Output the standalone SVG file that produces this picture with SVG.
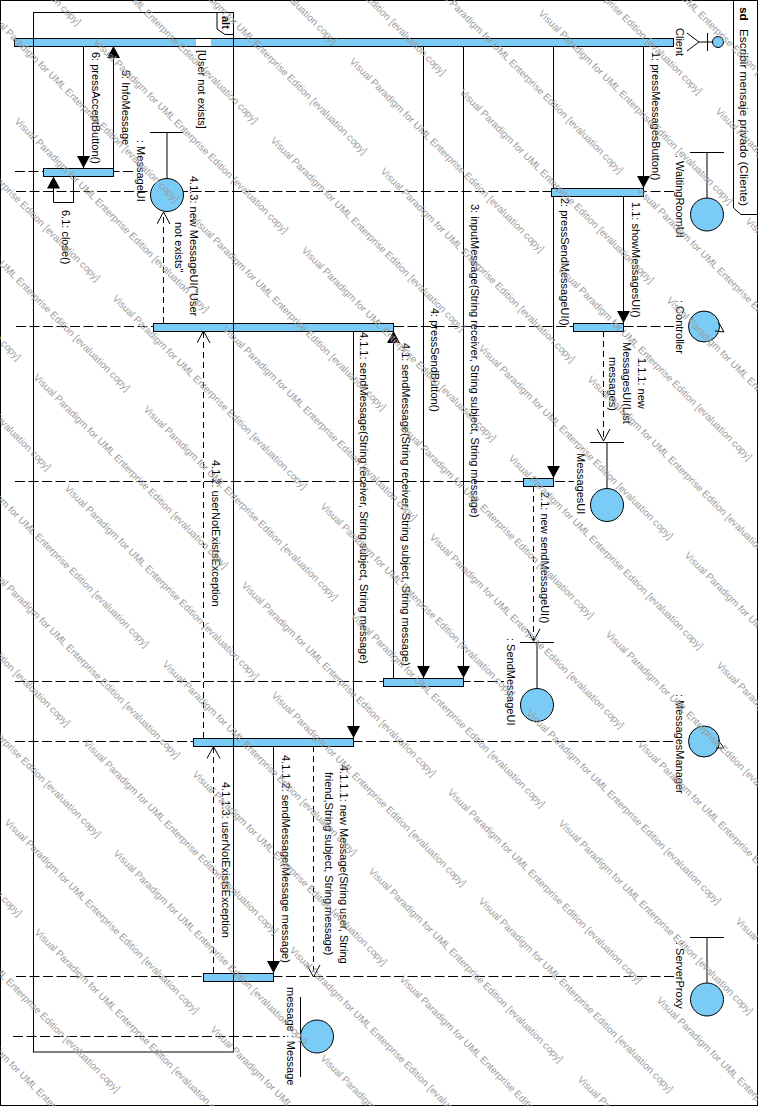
<svg xmlns="http://www.w3.org/2000/svg" width="758" height="1106" viewBox="0 0 758 1106">
<style>
text{font-family:"Liberation Sans",Arial,sans-serif;font-size:11px;fill:#000}
.b{font-weight:bold}
.t{font-size:11.8px}
.wm{font-size:10px;fill:#9c9c9c}
.l{stroke:#000;stroke-width:1;fill:none}
.life{stroke:#000;stroke-width:1;fill:none;stroke-dasharray:10 3.5}
.msg{stroke:#000;stroke-width:1;fill:none;marker-end:url(#solid)}
.ret{stroke:#000;stroke-width:1;fill:none;stroke-dasharray:6 4;marker-end:url(#open)}
.bar,.c{fill:#7ACBF5;stroke:#000;stroke-width:1}
</style>
<defs>
<marker id="solid" markerUnits="userSpaceOnUse" markerWidth="14" markerHeight="15" refX="12" refY="7" orient="auto"><path d="M0,0.5 L12,7 L0,13.5 z" fill="#000"/></marker>
<marker id="open" markerUnits="userSpaceOnUse" markerWidth="14" markerHeight="15" refX="12" refY="7" orient="auto"><path d="M0,0.5 L12,7 L0,13.5" fill="none" stroke="#000"/></marker>
</defs>
<rect x="0.5" y="0.5" width="757" height="1105" fill="#fff" stroke="#000"/>
<g id="frame-sd">
<path class="l" d="M733.5,0 V208 L741,214.5 H758"/>
<text class="b t" transform="translate(740,7) rotate(90)">sd</text>
<text class="t" transform="translate(740,29) rotate(90)">Escribir mensaje privado (Cliente)</text>
</g>
<g id="connectors">
<path class="life" d="M16,191.5 H675"/>
<path class="life" d="M15,171.5 H134"/>
<path class="life" d="M16,326.5 H675"/>
<path class="life" d="M15,481.5 H574"/>
<path class="life" d="M15,681.5 H504"/>
<path class="life" d="M15,741.5 H675"/>
<path class="life" d="M16,976.5 H675"/>
<path class="life" d="M13,1036.5 H285"/>
<path class="msg" d="M643.5,46 V188"/>
<text transform="translate(652,52) rotate(90)">1: pressMessagesButton()</text>
<path class="msg" d="M623.5,196 V323"/>
<text transform="translate(632,202) rotate(90)">1.1: showMessagesUI()</text>
<path class="ret" d="M603.5,331 V441"/>
<text transform="translate(638,358) rotate(90)">1.1.1: new</text>
<text transform="translate(623,342) rotate(90)">MessagesUI(List</text>
<text transform="translate(609,357) rotate(90)">messages)</text>
<path class="msg" d="M553.5,46 V478"/>
<text transform="translate(561,198) rotate(90)">2: pressSendMessageUI()</text>
<path class="ret" d="M533.5,486 V641"/>
<text transform="translate(541,492) rotate(90)">2.1: new sendMessageUI()</text>
<path class="msg" d="M463.5,46 V678"/>
<text transform="translate(471,204) rotate(90)">3: inputMessage(String receiver, String subject, String message)</text>
<path class="msg" d="M423.5,46 V678"/>
<text transform="translate(431,308) rotate(90)">4: pressSendButton()</text>
<path class="msg" d="M393.5,678 V331"/>
<text transform="translate(402,343) rotate(90)">4.1: sendMessage(String receiver, String subject, String message)</text>
<path class="msg" d="M353.5,331 V738"/>
<text transform="translate(360,332) rotate(90)">4.1.1: sendMessage(String receiver, String subject, String message)</text>
<path class="ret" d="M313.5,746 V977"/>
<text transform="translate(340,765) rotate(90)">4.1.1.1: new Message(String user, String</text>
<text transform="translate(325,772) rotate(90)">friend,String subject, String message)</text>
<path class="msg" d="M273.5,746 V973"/>
<text transform="translate(282,755) rotate(90)">4.1.1.2: sendMessage(Message message)</text>
<path class="ret" d="M213.5,973 V746.5"/>
<text transform="translate(222,782) rotate(90)">4.1.1.3: userNotExistsException</text>
<path class="ret" d="M203.5,738 V331"/>
<text transform="translate(212,460) rotate(90)">4.1.2: userNotExistsException</text>
<path class="ret" d="M163.5,323 V212"/>
<text transform="translate(190,176) rotate(90)">4.1.3: new MessageUI("User</text>
<text transform="translate(175,222) rotate(90)">not exists"</text>
<path class="msg" d="M113.5,168 V46"/>
<text transform="translate(122,70) rotate(90)">5: InfoMessage</text>
<path class="msg" d="M83.5,46 V168"/>
<text transform="translate(92,52) rotate(90)">6: pressAcceptButton()</text>
<path class="msg" d="M73.5,176 V202.5 H53.5 V176.5"/>
<text transform="translate(62,210) rotate(90)">6.1: close()</text>
</g>
<g id="client">
<rect class="bar" x="14.5" y="38.5" width="659" height="8"/>
<rect x="196" y="39" width="15" height="7" fill="#fff"/>
<circle class="c" cx="718" cy="42" r="5.5"/>
<path class="l" d="M687,33 L699,42 L687,51 M699,42 H713 M707.5,33 V51"/>
<text transform="translate(676,28) rotate(90)">Client</text>
</g>
<g id="waitingRoomUI">
<rect class="bar" x="551.5" y="188.5" width="92" height="8"/>
<path class="l" d="M690,152.5 H724 M707,152.5 V198"/>
<circle class="c" cx="707" cy="214.5" r="16.5"/>
<text transform="translate(676,155) rotate(90)">: WaitingRoomUI</text>
</g>
<g id="controller">
<rect class="bar" x="573.5" y="323.5" width="50" height="8"/>
<rect class="bar" x="153.5" y="323.5" width="240" height="8"/>
<circle class="c" cx="704" cy="326.5" r="15.5"/>
<path class="l" d="M719,323 L724,332 L715,331"/>
<text transform="translate(676,300) rotate(90)">: Controller</text>
</g>
<g id="messagesUI-list">
<rect class="bar" x="523.5" y="478.5" width="30" height="8"/>
<path class="l" d="M590,442.5 H624 M607,442.5 V488"/>
<circle class="c" cx="607" cy="505" r="16.5"/>
<text transform="translate(577,447) rotate(90)">: MessagesUI</text>
</g>
<g id="sendMessageUI">
<rect class="bar" x="383.5" y="678.5" width="80" height="8"/>
<path class="l" d="M520,642.5 H554 M537,642.5 V688"/>
<circle class="c" cx="537" cy="705" r="16.5"/>
<text transform="translate(507,638) rotate(90)">: SendMessageUI</text>
</g>
<g id="messagesManager">
<rect class="bar" x="193.5" y="738.5" width="160" height="8"/>
<circle class="c" cx="704" cy="741.5" r="15.5"/>
<path class="l" d="M718,740 L724,748 L716,748"/>
<text transform="translate(676,694) rotate(90)">: MessagesManager</text>
</g>
<g id="serverProxy">
<rect class="bar" x="203.5" y="973.5" width="70" height="8"/>
<path class="l" d="M690,937.5 H724 M707,937.5 V983"/>
<circle class="c" cx="707" cy="999.5" r="16.5"/>
<text transform="translate(676,942) rotate(90)">: ServerProxy</text>
</g>
<g id="message">
<path class="l" d="M300.5,997 V1077"/>
<circle class="c" cx="317" cy="1036.5" r="16.5"/>
<text transform="translate(287,987) rotate(90)">message : Message</text>
</g>
<g id="messageUI">
<rect class="bar" x="43.5" y="168.5" width="70" height="8"/>
<path class="l" d="M150,132.5 H183 M167,132.5 V178"/>
<circle class="c" cx="167" cy="195" r="16.5"/>
<text transform="translate(137,140) rotate(90)">: MessageUI</text>
</g>
<g id="alt-frame">
<rect class="l" x="33.5" y="12.5" width="200" height="1039.5"/>
<path class="l" d="M217,12.5 V29 L225,34.5 H233.5"/>
<text class="b" transform="translate(222,16) rotate(90)">alt</text>
<text transform="translate(198,50) rotate(90)">[User not exists]</text>
</g>
<g id="watermark">
<text class="wm" transform="translate(-114,-165) rotate(45)">Visual Paradigm for UML Enterprise Edition [evaluation copy]</text>
<text class="wm" transform="translate(142,-146) rotate(45)">Visual Paradigm for UML Enterprise Edition [evaluation copy]</text>
<text class="wm" transform="translate(63,-67) rotate(45)">Visual Paradigm for UML Enterprise Edition [evaluation copy]</text>
<text class="wm" transform="translate(-16,12) rotate(45)">Visual Paradigm for UML Enterprise Edition [evaluation copy]</text>
<text class="wm" transform="translate(-95,91) rotate(45)">Visual Paradigm for UML Enterprise Edition [evaluation copy]</text>
<text class="wm" transform="translate(-174,170) rotate(45)">Visual Paradigm for UML Enterprise Edition [evaluation copy]</text>
<text class="wm" transform="translate(251,-115) rotate(45)">Visual Paradigm for UML Enterprise Edition [evaluation copy]</text>
<text class="wm" transform="translate(172,-36) rotate(45)">Visual Paradigm for UML Enterprise Edition [evaluation copy]</text>
<text class="wm" transform="translate(93,43) rotate(45)">Visual Paradigm for UML Enterprise Edition [evaluation copy]</text>
<text class="wm" transform="translate(14,122) rotate(45)">Visual Paradigm for UML Enterprise Edition [evaluation copy]</text>
<text class="wm" transform="translate(-65,201) rotate(45)">Visual Paradigm for UML Enterprise Edition [evaluation copy]</text>
<text class="wm" transform="translate(-144,280) rotate(45)">Visual Paradigm for UML Enterprise Edition [evaluation copy]</text>
<text class="wm" transform="translate(507,-96) rotate(45)">Visual Paradigm for UML Enterprise Edition [evaluation copy]</text>
<text class="wm" transform="translate(428,-17) rotate(45)">Visual Paradigm for UML Enterprise Edition [evaluation copy]</text>
<text class="wm" transform="translate(349,62) rotate(45)">Visual Paradigm for UML Enterprise Edition [evaluation copy]</text>
<text class="wm" transform="translate(270,141) rotate(45)">Visual Paradigm for UML Enterprise Edition [evaluation copy]</text>
<text class="wm" transform="translate(191,220) rotate(45)">Visual Paradigm for UML Enterprise Edition [evaluation copy]</text>
<text class="wm" transform="translate(112,299) rotate(45)">Visual Paradigm for UML Enterprise Edition [evaluation copy]</text>
<text class="wm" transform="translate(33,378) rotate(45)">Visual Paradigm for UML Enterprise Edition [evaluation copy]</text>
<text class="wm" transform="translate(-46,457) rotate(45)">Visual Paradigm for UML Enterprise Edition [evaluation copy]</text>
<text class="wm" transform="translate(-125,536) rotate(45)">Visual Paradigm for UML Enterprise Edition [evaluation copy]</text>
<text class="wm" transform="translate(617,-65) rotate(45)">Visual Paradigm for UML Enterprise Edition [evaluation copy]</text>
<text class="wm" transform="translate(538,14) rotate(45)">Visual Paradigm for UML Enterprise Edition [evaluation copy]</text>
<text class="wm" transform="translate(459,93) rotate(45)">Visual Paradigm for UML Enterprise Edition [evaluation copy]</text>
<text class="wm" transform="translate(380,172) rotate(45)">Visual Paradigm for UML Enterprise Edition [evaluation copy]</text>
<text class="wm" transform="translate(301,251) rotate(45)">Visual Paradigm for UML Enterprise Edition [evaluation copy]</text>
<text class="wm" transform="translate(222,330) rotate(45)">Visual Paradigm for UML Enterprise Edition [evaluation copy]</text>
<text class="wm" transform="translate(143,410) rotate(45)">Visual Paradigm for UML Enterprise Edition [evaluation copy]</text>
<text class="wm" transform="translate(64,489) rotate(45)">Visual Paradigm for UML Enterprise Edition [evaluation copy]</text>
<text class="wm" transform="translate(-15,568) rotate(45)">Visual Paradigm for UML Enterprise Edition [evaluation copy]</text>
<text class="wm" transform="translate(-94,647) rotate(45)">Visual Paradigm for UML Enterprise Edition [evaluation copy]</text>
<text class="wm" transform="translate(-173,726) rotate(45)">Visual Paradigm for UML Enterprise Edition [evaluation copy]</text>
<text class="wm" transform="translate(715,112) rotate(45)">Visual Paradigm for UML Enterprise Edition [evaluation copy]</text>
<text class="wm" transform="translate(636,191) rotate(45)">Visual Paradigm for UML Enterprise Edition [evaluation copy]</text>
<text class="wm" transform="translate(557,270) rotate(45)">Visual Paradigm for UML Enterprise Edition [evaluation copy]</text>
<text class="wm" transform="translate(478,349) rotate(45)">Visual Paradigm for UML Enterprise Edition [evaluation copy]</text>
<text class="wm" transform="translate(399,428) rotate(45)">Visual Paradigm for UML Enterprise Edition [evaluation copy]</text>
<text class="wm" transform="translate(320,507) rotate(45)">Visual Paradigm for UML Enterprise Edition [evaluation copy]</text>
<text class="wm" transform="translate(241,586) rotate(45)">Visual Paradigm for UML Enterprise Edition [evaluation copy]</text>
<text class="wm" transform="translate(162,665) rotate(45)">Visual Paradigm for UML Enterprise Edition [evaluation copy]</text>
<text class="wm" transform="translate(83,744) rotate(45)">Visual Paradigm for UML Enterprise Edition [evaluation copy]</text>
<text class="wm" transform="translate(4,823) rotate(45)">Visual Paradigm for UML Enterprise Edition [evaluation copy]</text>
<text class="wm" transform="translate(-75,902) rotate(45)">Visual Paradigm for UML Enterprise Edition [evaluation copy]</text>
<text class="wm" transform="translate(-154,981) rotate(45)">Visual Paradigm for UML Enterprise Edition [evaluation copy]</text>
<text class="wm" transform="translate(745,222) rotate(45)">Visual Paradigm for UML Enterprise Edition [evaluation copy]</text>
<text class="wm" transform="translate(666,301) rotate(45)">Visual Paradigm for UML Enterprise Edition [evaluation copy]</text>
<text class="wm" transform="translate(587,380) rotate(45)">Visual Paradigm for UML Enterprise Edition [evaluation copy]</text>
<text class="wm" transform="translate(508,459) rotate(45)">Visual Paradigm for UML Enterprise Edition [evaluation copy]</text>
<text class="wm" transform="translate(429,538) rotate(45)">Visual Paradigm for UML Enterprise Edition [evaluation copy]</text>
<text class="wm" transform="translate(350,617) rotate(45)">Visual Paradigm for UML Enterprise Edition [evaluation copy]</text>
<text class="wm" transform="translate(271,696) rotate(45)">Visual Paradigm for UML Enterprise Edition [evaluation copy]</text>
<text class="wm" transform="translate(192,775) rotate(45)">Visual Paradigm for UML Enterprise Edition [evaluation copy]</text>
<text class="wm" transform="translate(113,854) rotate(45)">Visual Paradigm for UML Enterprise Edition [evaluation copy]</text>
<text class="wm" transform="translate(34,933) rotate(45)">Visual Paradigm for UML Enterprise Edition [evaluation copy]</text>
<text class="wm" transform="translate(-45,1012) rotate(45)">Visual Paradigm for UML Enterprise Edition [evaluation copy]</text>
<text class="wm" transform="translate(-124,1091) rotate(45)">Visual Paradigm for UML Enterprise Edition [evaluation copy]</text>
<text class="wm" transform="translate(684,556) rotate(45)">Visual Paradigm for UML Enterprise Edition [evaluation copy]</text>
<text class="wm" transform="translate(605,635) rotate(45)">Visual Paradigm for UML Enterprise Edition [evaluation copy]</text>
<text class="wm" transform="translate(526,714) rotate(45)">Visual Paradigm for UML Enterprise Edition [evaluation copy]</text>
<text class="wm" transform="translate(447,793) rotate(45)">Visual Paradigm for UML Enterprise Edition [evaluation copy]</text>
<text class="wm" transform="translate(368,872) rotate(45)">Visual Paradigm for UML Enterprise Edition [evaluation copy]</text>
<text class="wm" transform="translate(289,951) rotate(45)">Visual Paradigm for UML Enterprise Edition [evaluation copy]</text>
<text class="wm" transform="translate(210,1030) rotate(45)">Visual Paradigm for UML Enterprise Edition [evaluation copy]</text>
<text class="wm" transform="translate(716,666) rotate(45)">Visual Paradigm for UML Enterprise Edition [evaluation copy]</text>
<text class="wm" transform="translate(637,745) rotate(45)">Visual Paradigm for UML Enterprise Edition [evaluation copy]</text>
<text class="wm" transform="translate(558,824) rotate(45)">Visual Paradigm for UML Enterprise Edition [evaluation copy]</text>
<text class="wm" transform="translate(478,902) rotate(45)">Visual Paradigm for UML Enterprise Edition [evaluation copy]</text>
<text class="wm" transform="translate(399,980) rotate(45)">Visual Paradigm for UML Enterprise Edition [evaluation copy]</text>
<text class="wm" transform="translate(320,1059) rotate(45)">Visual Paradigm for UML Enterprise Edition [evaluation copy]</text>
<text class="wm" transform="translate(735,922) rotate(45)">Visual Paradigm for UML Enterprise Edition [evaluation copy]</text>
<text class="wm" transform="translate(656,1001) rotate(45)">Visual Paradigm for UML Enterprise Edition [evaluation copy]</text>
<text class="wm" transform="translate(577,1080) rotate(45)">Visual Paradigm for UML Enterprise Edition [evaluation copy]</text>
</g>
</svg>
